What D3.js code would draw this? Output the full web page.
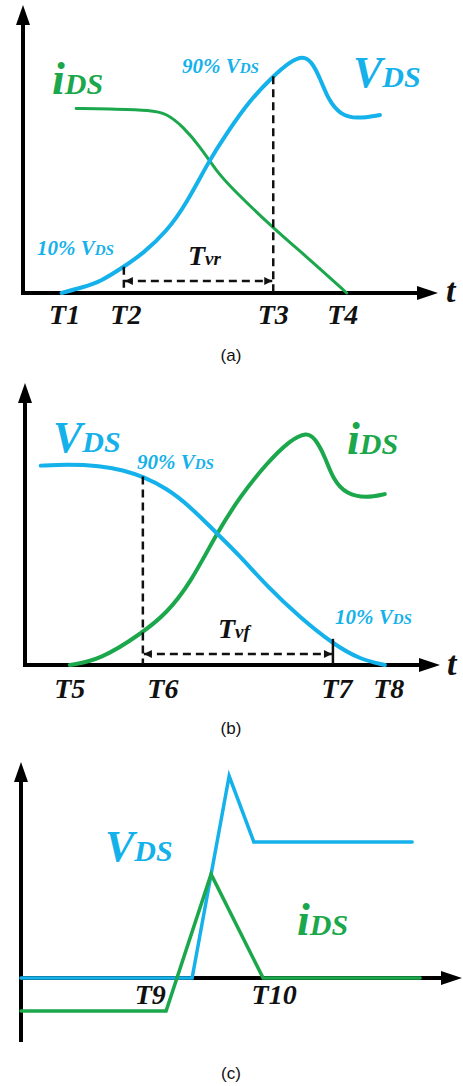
<!DOCTYPE html>
<html>
<head>
<meta charset="utf-8">
<script src="https://cdn.jsdelivr.net/npm/d3@7"></script>
<style>
  html, body { margin: 0; padding: 0; background: #fff; }
  svg { display: block; }
  .serif { font-family: "Liberation Serif", "Times New Roman", serif; font-weight: bold; font-style: italic; }
  .cap { font-family: "Liberation Sans", Arial, sans-serif; font-size: 17px; fill: #111; }
</style>
</head>
<body>
<svg id="chart" width="463" height="1086"></svg>
<script>
// ---- (a) turn-on: drain voltage rises, drain current falls ----
const vdsRiseA = [[9.3,0],[14.5,2.0],[18.6,3.9],[24.3,9.1],[29.0,13.8],[34.6,21.3],[39.4,31.1],
  [44.7,45.6],[49.1,55.5],[54.7,67.0],[60.3,75.3],[64.3,80.3],[67.5,82.4],[69.6,80.3],
  [71.6,74.5],[73.6,67.0],[76.4,62.0],[80.4,60.4],[86.0,61.8]];
const idsFallA = [[12.8,64.1],[22.6,63.8],[30.6,63.5],[34.6,62.4],[38.6,57.7],[42.7,50.8],
  [46.7,42.1],[50.7,35.8],[60.3,22.5],[69.2,11.5],[78.0,0]];
const markerNamesA = ["T1", "T2", "T3", "T4"];
const markerTimesA = [9.3, 24.3, 60.3, 78.0];

// ---- (b) turn-off: drain voltage falls, drain current rises ----
const vdsFallB = [[3.8,70.7],[10.0,71.2],[18.1,70.7],[23.7,69.1],[28.4,66.8],[34.1,62.7],
  [39.8,56.2],[46.2,46.7],[51.8,38.7],[58.2,28.1],[66.3,16.8],[74.3,7.4],[80.7,2.0],[86.7,0]];
const idsRiseB = [[10.8,0],[18.1,1.8],[28.1,11.2],[34.1,18.3],[39.8,28.9],[46.2,46.7],
  [51.8,59.7],[58.2,71.5],[63.9,79.8],[67.9,82.6],[69.9,80.4],[72.3,73.9],[74.3,65.6],
  [77.5,60.5],[82.3,59.2],[86.7,60.6]];
const markerNamesB = ["T5", "T6", "T7", "T8"];
const markerTimesB = [10.8, 28.4, 74.2, 86.7];

// ---- (c) idealised piecewise-linear waveforms ----
const vdsC = [[0,0],[38.8,0],[47.2,93.5],[52.8,63.0],[88.7,63.0]];
const idsC = [[0,-15.3],[32.9,-15.3],[43.1,48.1],[54.9,0],[90.5,0]];
const markerNamesC = ["T9", "T10"];
const markerTimesC = [29.3, 57.4];

const BLUE = "#14b1ea";
const GREEN = "#1ba74b";
const svg = d3.select("#chart");

// arrowheads for the dashed interval markers
const defs = svg.append("defs");
defs.append("marker").attr("id", "arrEnd").attr("viewBox", "0 0 10 10")
  .attr("refX", 10).attr("refY", 5).attr("markerWidth", 10).attr("markerHeight", 8)
  .attr("markerUnits", "userSpaceOnUse").attr("orient", "auto")
  .append("path").attr("d", "M0,0 L10,5 L0,10 Z").attr("fill", "#111");
defs.append("marker").attr("id", "arrStart").attr("viewBox", "0 0 10 10")
  .attr("refX", 0).attr("refY", 5).attr("markerWidth", 10).attr("markerHeight", 8)
  .attr("markerUnits", "userSpaceOnUse").attr("orient", "auto")
  .append("path").attr("d", "M10,0 L0,5 L10,10 Z").attr("fill", "#111");

function axes(g, x0, xEnd, yAxis, yTop, yBottom) {
  // vertical axis with arrow
  g.append("line").attr("x1", x0).attr("x2", x0).attr("y1", yTop + 14).attr("y2", yBottom)
    .attr("stroke", "#000").attr("stroke-width", 4);
  g.append("path").attr("d", `M${x0},${yTop} L${x0 - 7},${yTop + 20} L${x0 + 7},${yTop + 20} Z`).attr("fill", "#000");
  // horizontal axis with arrow
  g.append("line").attr("x1", x0 - 2).attr("x2", xEnd - 14).attr("y1", yAxis).attr("y2", yAxis)
    .attr("stroke", "#000").attr("stroke-width", 4);
  g.append("path").attr("d", `M${xEnd},${yAxis} L${xEnd - 21},${yAxis - 7} L${xEnd - 21},${yAxis + 7} Z`).attr("fill", "#000");
}

function label(g, x, y, parts, fill) {
  const t = g.append("text").attr("class", "serif").attr("x", x).attr("y", y).attr("fill", fill);
  parts.forEach(p => t.append("tspan").attr("font-size", p[1]).text(p[0]));
  return t;
}

function curve(g, data, x, y, color, width, interp) {
  const line = d3.line().x(d => x(d[0])).y(d => y(d[1])).curve(interp);
  g.append("path").datum(data).attr("d", line).attr("fill", "none")
    .attr("stroke", color).attr("stroke-width", width)
    .attr("stroke-linecap", "round").attr("stroke-linejoin", "miter");
}

function markerLabels(g, names, times, x, y, dxs) {
  g.selectAll(null).data(names).join("text").attr("class", "serif")
    .attr("x", (d, i) => x(times[i]) + dxs[i]).attr("y", y)
    .attr("text-anchor", "middle").attr("font-size", 28).attr("fill", "#111").text(d => d);
}

const smooth = d3.curveBasis;

// ================= panel (a) =================
{
  const g = svg.append("g");
  const x = d3.scaleLinear().domain([0, 100]).range([23, 438]);
  const y = d3.scaleLinear().domain([0, 100]).range([293, 5]);
  axes(g, 23, 438, 293, 5, 293);
  curve(g, idsFallA, x, y, GREEN, 3, smooth);
  curve(g, vdsRiseA, x, y, BLUE, 4, smooth);
  const v10 = d3.scaleLinear().domain(vdsRiseA.map(d => d[0])).range(vdsRiseA.map(d => d[1]));
  // dashed guides at T2 and T3
  [1, 2].forEach(i => {
    const t = markerTimesA[i];
    g.append("line").attr("x1", x(t)).attr("x2", x(t)).attr("y1", y(v10(t))).attr("y2", 292)
      .attr("stroke", "#111").attr("stroke-width", 2.5).attr("stroke-dasharray", "8,5");
  });
  g.append("line").attr("x1", x(markerTimesA[1]) + 1).attr("x2", x(markerTimesA[2]) - 1)
    .attr("y1", 281).attr("y2", 281).attr("stroke", "#111").attr("stroke-width", 2.5)
    .attr("stroke-dasharray", "8,5").attr("marker-start", "url(#arrStart)").attr("marker-end", "url(#arrEnd)");
  markerLabels(g, markerNamesA, markerTimesA, x, 324, [3, 2, 0, -4]);
  label(g, 446, 302, [["t", 34]], "#111");
  label(g, 188, 265, [["T", 28], ["vr", 19]], "#111");
  label(g, 37, 255, [["10% V", 21], ["DS", 15]], BLUE);
  label(g, 182, 73, [["90% V", 21], ["DS", 15]], BLUE);
  label(g, 52, 94, [["i", 46], ["DS", 30]], GREEN);
  label(g, 353, 87, [["V", 44], ["DS", 30]], BLUE);
  g.append("text").attr("class", "cap").attr("x", 231).attr("y", 361).attr("text-anchor", "middle").text("(a)");
}

// ================= panel (b) =================
{
  const g = svg.append("g");
  const x = d3.scaleLinear().domain([0, 100]).range([25, 440]);
  const y = d3.scaleLinear().domain([0, 100]).range([665, 383]);
  axes(g, 25, 440, 665, 383, 665);
  curve(g, idsRiseB, x, y, GREEN, 4, smooth);
  curve(g, vdsFallB, x, y, BLUE, 4, smooth);
  const vAt = d3.scaleLinear().domain(vdsFallB.map(d => d[0])).range(vdsFallB.map(d => d[1]));
  const t6 = markerTimesB[1], t7 = markerTimesB[2];
  g.append("line").attr("x1", x(t6)).attr("x2", x(t6)).attr("y1", y(vAt(t6))).attr("y2", 664)
    .attr("stroke", "#111").attr("stroke-width", 2.5).attr("stroke-dasharray", "8,5");
  g.append("line").attr("x1", x(t7)).attr("x2", x(t7)).attr("y1", y(vAt(t7)) - 5).attr("y2", 664)
    .attr("stroke", "#111").attr("stroke-width", 2.5);
  g.append("line").attr("x1", x(t6) + 1).attr("x2", x(t7) - 1)
    .attr("y1", 654).attr("y2", 654).attr("stroke", "#111").attr("stroke-width", 2.5)
    .attr("stroke-dasharray", "8,5").attr("marker-start", "url(#arrStart)").attr("marker-end", "url(#arrEnd)");
  markerLabels(g, markerNamesB, markerTimesB, x, 698, [0, 20, 4, 4]);
  label(g, 447, 675, [["t", 34]], "#111");
  label(g, 218, 638, [["T", 28], ["vf", 19]], "#111");
  label(g, 53, 452, [["V", 44], ["DS", 30]], BLUE);
  label(g, 137, 469, [["90% V", 21], ["DS", 15]], BLUE);
  label(g, 335, 624, [["10% V", 21], ["DS", 15]], BLUE);
  label(g, 347, 454, [["i", 46], ["DS", 30]], GREEN);
  g.append("text").attr("class", "cap").attr("x", 231).attr("y", 734).attr("text-anchor", "middle").text("(b)");
}

// ================= panel (c) =================
{
  const g = svg.append("g");
  const x = d3.scaleLinear().domain([0, 100]).range([21, 462]);
  const y = d3.scaleLinear().domain([0, 100]).range([978, 762]);
  axes(g, 21, 462, 978, 762, 1042);
  curve(g, vdsC, x, y, BLUE, 3.5, d3.curveLinear);
  curve(g, idsC, x, y, GREEN, 3.5, d3.curveLinear);
  markerLabels(g, markerNamesC, markerTimesC, x, 1004, [0, 0]);
  label(g, 105, 861, [["V", 44], ["DS", 30]], BLUE);
  label(g, 297, 935, [["i", 46], ["DS", 30]], GREEN);
  g.append("text").attr("class", "cap").attr("x", 231).attr("y", 1079).attr("text-anchor", "middle").text("(c)");
}
</script>
</body>
</html>
